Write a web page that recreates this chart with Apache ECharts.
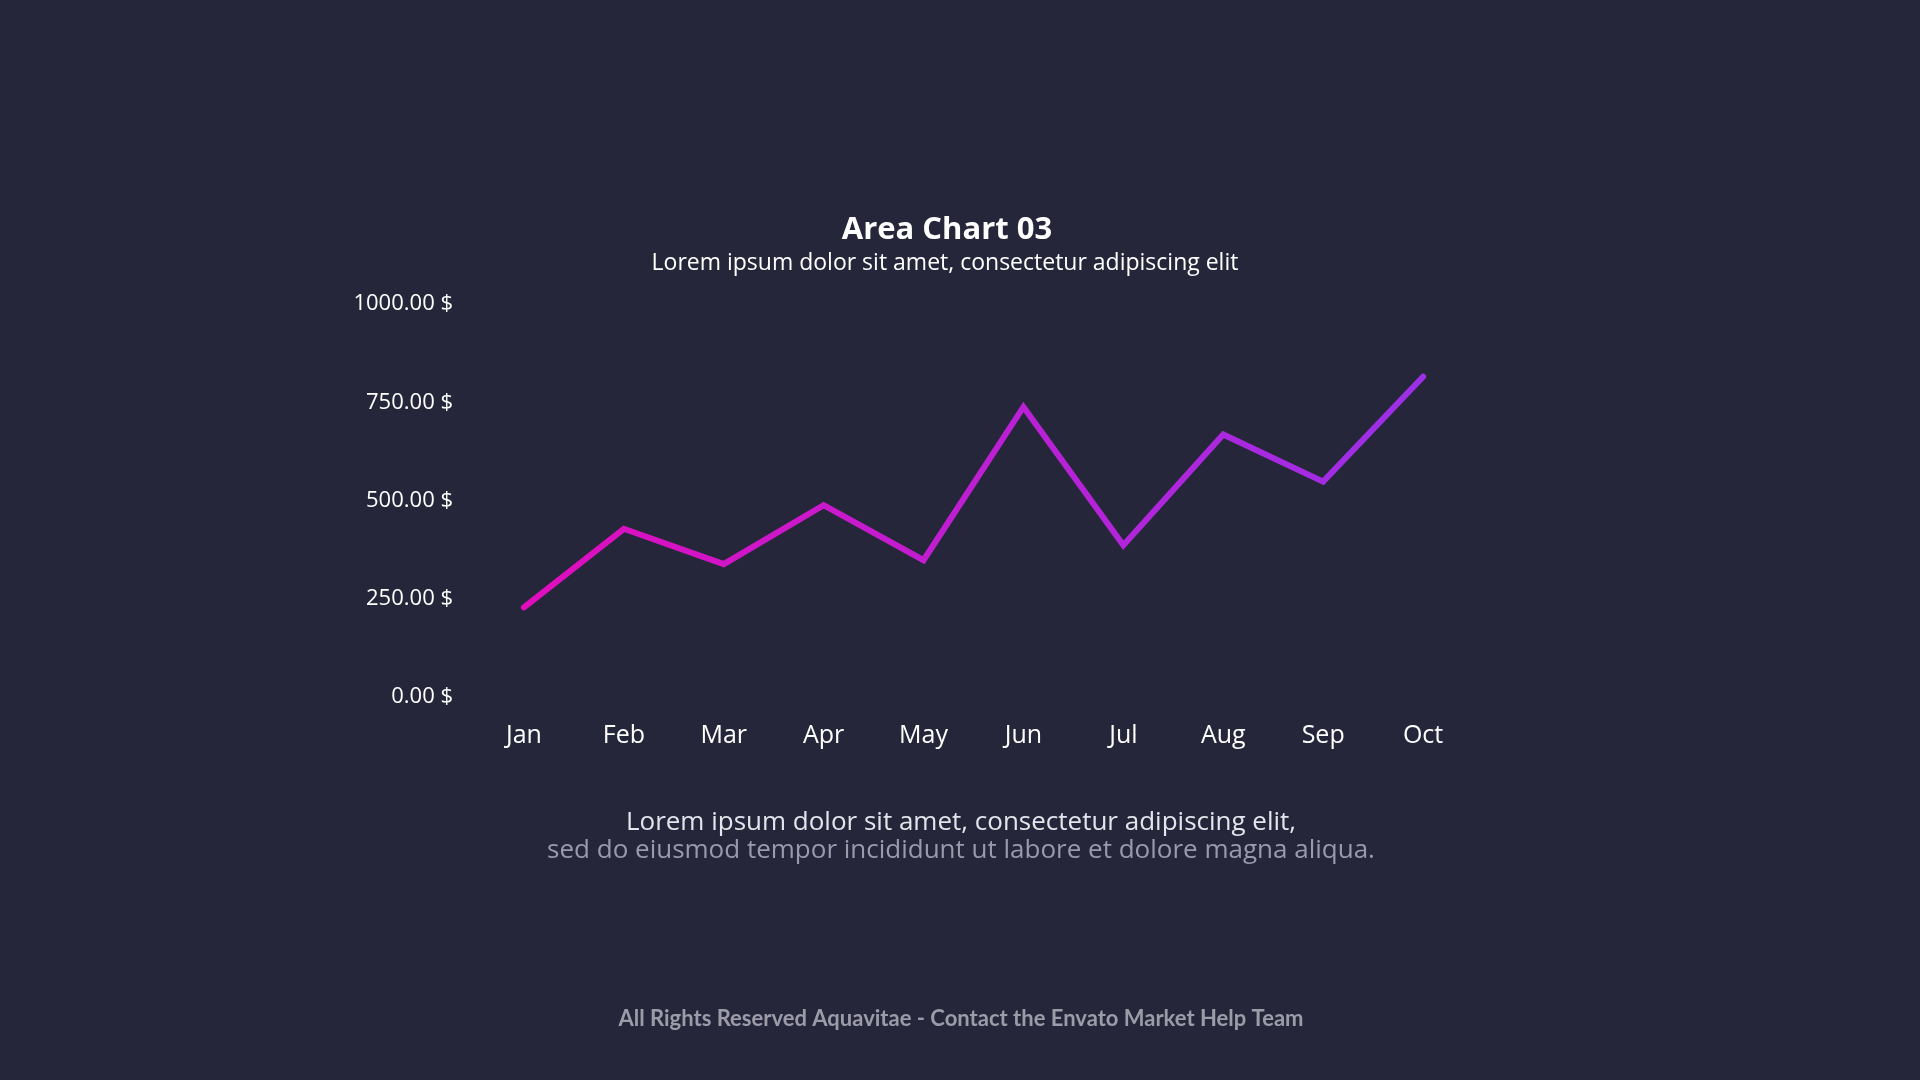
<!DOCTYPE html>
<html>
<head>
<meta charset="utf-8">
<script src="https://cdn.jsdelivr.net/npm/echarts@6/dist/echarts.min.js"></script>
<style>
html,body{margin:0;padding:0;background:#26263a;}
#c{width:1920px;height:1080px;}
</style>
</head>
<body>
<div id="c"></div>
<script>
const months = ['Jan','Feb','Mar','Apr','May','Jun','Jul','Aug','Sep','Oct'];
const values = [228, 428, 338, 488, 348, 738, 386, 668, 548, 815];
const yMin = 0, yMax = 1000, yStep = 250;
const titleText = 'Area Chart 03';
const subtitleText = 'Lorem ipsum dolor sit amet, consectetur adipiscing elit';
const noteLine1 = 'Lorem ipsum dolor sit amet, consectetur adipiscing elit,';
const noteLine2 = 'sed do eiusmod tempor incididunt ut labore et dolore magna aliqua.';
const footerText = 'All Rights Reserved Aquavitae - Contact the Envato Market Help Team';

const FONT = '"Open Sans", "Noto Sans", sans-serif';
const chart = echarts.init(document.getElementById('c'), null, {renderer:'canvas'});
chart.setOption({
  backgroundColor: '#26263a',
  animation: false,
  grid: {left: 474, right: 447, top: 304, bottom: 383, containLabel: false},
  xAxis: {
    type: 'category',
    data: months,
    boundaryGap: true,
    axisLine: {show: false},
    axisTick: {show: false},
    splitLine: {show: false},
    axisLabel: {color: '#ffffff', fontFamily: FONT, fontSize: 25, margin: 26}
  },
  yAxis: {
    type: 'value',
    min: yMin, max: yMax, interval: yStep,
    axisLine: {show: false},
    axisTick: {show: false},
    splitLine: {show: false},
    axisLabel: {
      color: '#ffffff', fontFamily: FONT, fontSize: 22, margin: 21,
      formatter: v => v.toFixed(2) + ' $'
    }
  },
  series: [{
    type: 'line',
    data: values,
    symbol: 'none',
    lineStyle: {
      width: 6,
      cap: 'round',
      join: 'miter',
      color: new echarts.graphic.LinearGradient(0, 0, 1, 0, [
        {offset: 0, color: '#e10dbd'},
        {offset: 1, color: '#9b30e8'}
      ])
    }
  }],
  graphic: [
    {type:'text', x: 947, y: 230, style:{text: titleText, fill:'#ffffff', font:'bold 31px ' + FONT, textAlign:'center', textVerticalAlign:'middle'}},
    {type:'text', x: 945, y: 263, style:{text: subtitleText, fill:'#ffffff', font:'23px ' + FONT, textAlign:'center', textVerticalAlign:'middle'}},
    {type:'text', x: 961, y: 823, style:{text: noteLine1, fill:'#e4e4ec', font:'26px ' + FONT, textAlign:'center', textVerticalAlign:'middle'}},
    {type:'text', x: 961, y: 851, style:{text: noteLine2, fill:'#9a9aab', font:'26px ' + FONT, textAlign:'center', textVerticalAlign:'middle'}},
    {type:'text', x: 961, y: 1019, style:{text: footerText, fill:'#9c9ca8', font:'bold 22px Lato, "Open Sans", sans-serif', textAlign:'center', textVerticalAlign:'middle'}}
  ]
});
</script>
</body>
</html>
